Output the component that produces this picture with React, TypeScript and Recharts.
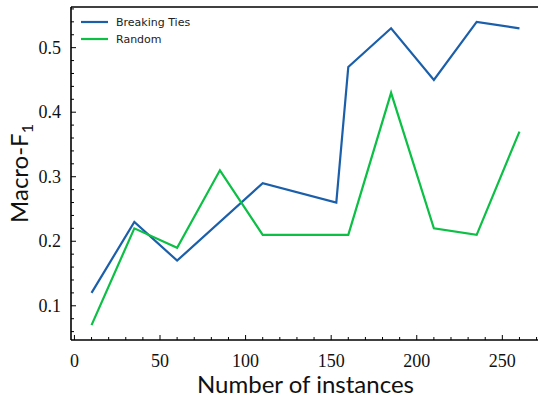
import React from "react";
import { LineChart, Line, XAxis, YAxis } from "recharts";

// ─── Data ────────────────────────────────────────────────────────────────────

const btInstances = [10, 35, 60, 110, 153, 160, 185, 210, 235, 260];
const btScores = [0.12, 0.23, 0.17, 0.29, 0.26, 0.47, 0.53, 0.45, 0.54, 0.53];

const rndInstances = [10, 35, 60, 85, 110, 160, 185, 210, 235, 260];
const rndScores = [0.07, 0.22, 0.19, 0.31, 0.21, 0.21, 0.43, 0.22, 0.21, 0.37];

const xMajor = [0, 50, 100, 150, 200, 250];
const xTicks = [0, 10, 20, 30, 40, 50, 60, 70, 80, 90, 100, 110, 120, 130, 140, 150, 160, 170, 180, 190, 200, 210, 220, 230, 240, 250, 260, 270];
const yMajor = [0.1, 0.2, 0.3, 0.4, 0.5];
const yTicks = [0.06, 0.08, 0.1, 0.12, 0.14, 0.16, 0.18, 0.2, 0.22, 0.24, 0.26, 0.28, 0.3, 0.32, 0.34, 0.36, 0.38, 0.4, 0.42, 0.44, 0.46, 0.48, 0.5, 0.52, 0.54, 0.56];

const BLUE = "#1b5faa";
const GREEN = "#0cbf45";

const btData = btInstances.map((x, i) => ({ x, y: btScores[i] }));
const rndData = rndInstances.map((x, i) => ({ x, y: rndScores[i] }));

const SERIF = "'Liberation Serif', 'DejaVu Serif', serif";
const SANS = "Lato, 'DejaVu Sans', sans-serif";

const isXMajor = (v: number) => xMajor.includes(v);
const isYMajor = (v: number) => yMajor.some((m) => Math.abs(m - v) < 1e-6);

// ─── Ticks (drawn inward, like matplotlib's "in" direction) ─────────────────

function BottomTick({ x, y, payload }: any) {
  const major = isXMajor(payload.value);
  return (
    <g>
      <line x1={x} x2={x} y1={y} y2={y - (major ? 5 : 3)} stroke="#000" strokeWidth={1} />
      {major && (
        <text x={x} y={y + 27} textAnchor="middle" fontFamily={SERIF} fontSize={18} style={{ fontFamily: SERIF, fontSize: 18 }} fill="#111">
          {payload.value}
        </text>
      )}
    </g>
  );
}

function TopTick({ x, y, payload }: any) {
  const major = isXMajor(payload.value);
  return <line x1={x} x2={x} y1={y} y2={y + (major ? 5 : 3)} stroke="#000" strokeWidth={1} />;
}

function LeftTick({ x, y, payload }: any) {
  const major = isYMajor(payload.value);
  return (
    <g>
      <line x1={x} x2={x + (major ? 5 : 3)} y1={y} y2={y} stroke="#000" strokeWidth={1} />
      {major && (
        <text x={x - 10} y={y + 6} textAnchor="end" fontFamily={SERIF} fontSize={18} style={{ fontFamily: SERIF, fontSize: 18 }} fill="#111">
          {payload.value.toFixed(1)}
        </text>
      )}
    </g>
  );
}

function RightTick({ x, y, payload }: any) {
  const major = isYMajor(payload.value);
  return <line x1={x} x2={x - (major ? 5 : 3)} y1={y} y2={y} stroke="#000" strokeWidth={1} />;
}

// ─── Labels / legend ─────────────────────────────────────────────────────────

function XLabel({ viewBox }: any) {
  const { x, y, width } = viewBox;
  return (
    <text x={x + width / 2} y={y + 53} textAnchor="middle" style={{ fontFamily: SANS, fontSize: 24 }} fill="#111">
      Number of instances
    </text>
  );
}

function YLabel({ viewBox }: any) {
  const { y, height } = viewBox;
  const cx = 28;
  const cy = y + height / 2;
  return (
    <text transform={`translate(${cx},${cy}) rotate(-90)`} textAnchor="middle" style={{ fontFamily: SANS, fontSize: 24 }} fill="#111">
      Macro-F
      <tspan style={{ fontSize: 16 }} dy={5}>1</tspan>
    </text>
  );
}

function LegendBox() {
  const rows = [
    { name: "Breaking Ties", color: BLUE },
    { name: "Random", color: GREEN },
  ];
  return (
    <svg width={140} height={40} style={{ position: "absolute", left: 76, top: 14 }}>
      {rows.map((r, i) => (
        <g key={r.name}>
          <line x1={5} x2={32} y1={8 + i * 17} y2={8 + i * 17} stroke={r.color} strokeWidth={2.2} />
          <text x={40} y={12 + i * 17} style={{ fontFamily: "'DejaVu Sans', sans-serif", fontSize: 11 }} fill="#222">
            {r.name}
          </text>
        </g>
      ))}
    </svg>
  );
}

// ─── Main ────────────────────────────────────────────────────────────────────

export default function App() {
  return (
    <div style={{ position: "absolute", left: 0, top: 0, width: 538, height: 397, overflow: "hidden", background: "#fff" }}>
      <style>{`body{margin:0}`}</style>
      <LineChart width={540} height={397} margin={{ top: 0, right: 0, left: 0, bottom: 0 }}>
        <XAxis
          xAxisId="x"
          dataKey="x"
          type="number"
          domain={[-2, 272]}
          allowDataOverflow
          ticks={xTicks}
          interval={0}
          height={57}
          tickLine={false}
          tickSize={0}
          tickMargin={0}
          tick={BottomTick}
          axisLine={{ stroke: "#000", strokeWidth: 1.6 }}
          label={{ content: XLabel }}
        />
        <XAxis
          xAxisId="top"
          orientation="top"
          type="number"
          domain={[-2, 272]}
          allowDataOverflow
          ticks={xTicks}
          interval={0}
          height={7}
          tickLine={false}
          tickSize={0}
          tickMargin={0}
          tick={TopTick}
          axisLine={{ stroke: "#000", strokeWidth: 1.6 }}
        />
        <YAxis
          yAxisId="y"
          type="number"
          domain={[0.047, 0.563]}
          allowDataOverflow
          ticks={yTicks}
          interval={0}
          width={71}
          tickLine={false}
          tickSize={0}
          tickMargin={0}
          tick={LeftTick}
          axisLine={{ stroke: "#000", strokeWidth: 1.6 }}
          label={{ content: YLabel }}
        />
        <YAxis
          yAxisId="right"
          orientation="right"
          type="number"
          domain={[0.047, 0.563]}
          allowDataOverflow
          ticks={yTicks}
          interval={0}
          width={0}
          tickLine={false}
          tickSize={0}
          tickMargin={0}
          tick={RightTick}
          axisLine={{ stroke: "#000", strokeWidth: 1.6 }}
        />
        <Line
          xAxisId="x"
          yAxisId="y"
          data={btData}
          dataKey="y"
          name="Breaking Ties"
          stroke={BLUE}
          strokeWidth={2.2}
          dot={false}
          type="linear"
          isAnimationActive={false}
        />
        <Line
          xAxisId="x"
          yAxisId="y"
          data={rndData}
          dataKey="y"
          name="Random"
          stroke={GREEN}
          strokeWidth={2.2}
          dot={false}
          type="linear"
          isAnimationActive={false}
        />
      </LineChart>
      <LegendBox />
    </div>
  );
}
